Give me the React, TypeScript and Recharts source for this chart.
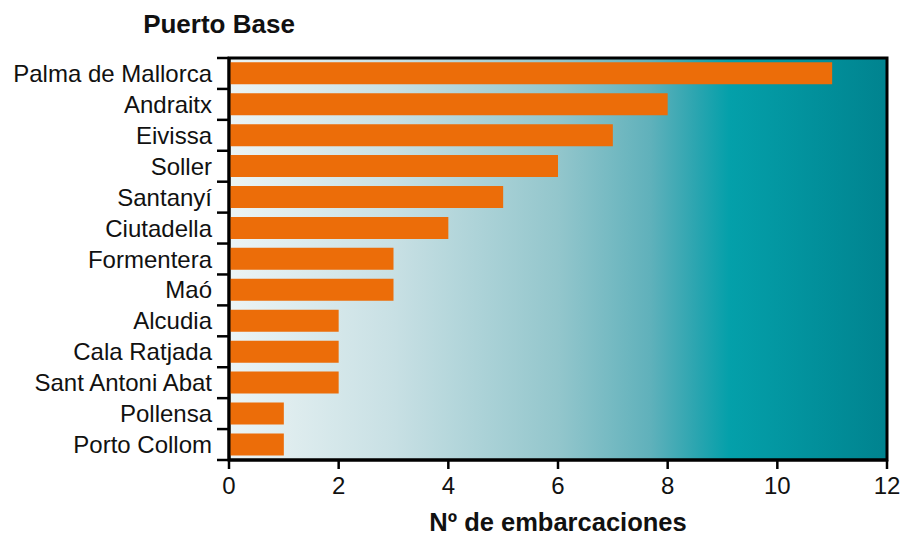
import React from "react";
import { BarChart, Bar, XAxis, YAxis, CartesianGrid, ReferenceArea } from "recharts";

const ports = [
  "Palma de Mallorca",
  "Andraitx",
  "Eivissa",
  "Soller",
  "Santanyí",
  "Ciutadella",
  "Formentera",
  "Maó",
  "Alcudia",
  "Cala Ratjada",
  "Sant Antoni Abat",
  "Pollensa",
  "Porto Collom",
];
const boats = [11, 8, 7, 6, 5, 4, 3, 3, 2, 2, 2, 1, 1];
const xTicks = [0, 2, 4, 6, 8, 10, 12];

const data = ports.map((name, i) => ({ name, value: boats[i] }));

const FONT = "'Liberation Sans', Arial, Helvetica, sans-serif";
const W = 904;
const H = 536;
const M = { top: 58, right: 17, bottom: 36, left: 0 };
const XAXIS_H = 40;
const PLOT_H = H - M.top - M.bottom - XAXIS_H;
const BAND = PLOT_H / ports.length;

const YTick = (props: any) => {
  const { x, y, payload, index, visibleTicksCount } = props;
  const top = y - BAND / 2;
  const bottom = y + BAND / 2;
  return (
    <g>
      <line x1={x - 12} x2={x} y1={top} y2={top} stroke="#000" strokeWidth={2.5} />
      {index === visibleTicksCount - 1 && (
        <line x1={x - 12} x2={x} y1={bottom} y2={bottom} stroke="#000" strokeWidth={2.5} />
      )}
      <text
        x={x - 17}
        y={y}
        textAnchor="end"
        dominantBaseline="central"
        fontFamily={FONT}
        fontSize={24}
        fill="#111"
      >
        {payload.value}
      </text>
    </g>
  );
};

export default function App() {
  return (
    <div style={{ position: "absolute", left: 0, top: 0, width: W, height: H, background: "#fff" }}>
      <BarChart
        width={W}
        height={H}
        data={data}
        layout="vertical"
        margin={M}
        barCategoryGap="14%"
      >
        <defs>
          <linearGradient id="bgGrad" x1="0" y1="0" x2="1" y2="0">
            <stop offset="0" stopColor="#ecf4f5" />
            <stop offset="0.25" stopColor="#c8e0e4" />
            <stop offset="0.5" stopColor="#93c6cc" />
            <stop offset="0.64" stopColor="#60b1bb" />
            <stop offset="0.71" stopColor="#2ba5b0" />
            <stop offset="0.76" stopColor="#04a0aa" />
            <stop offset="1" stopColor="#00838f" />
          </linearGradient>
        </defs>
        <CartesianGrid fill="url(#bgGrad)" horizontal={false} vertical={false} />
        <XAxis
          type="number"
          domain={[0, 12]}
          ticks={xTicks}
          height={XAXIS_H}
          axisLine={{ stroke: "#000", strokeWidth: 3 }}
          tickLine={{ stroke: "#000", strokeWidth: 2.5 }}
          tickSize={9}
          tickMargin={8}
          tick={{ fontFamily: FONT, fontSize: 24, fill: "#111" }}
          label={{
            value: "Nº de embarcaciones",
            position: "insideBottom",
            offset: -31,
            fontFamily: FONT,
            fontSize: 25.5,
            fontWeight: "bold",
            fill: "#111",
          }}
        />
        <YAxis
          type="category"
          dataKey="name"
          width={229}
          axisLine={{ stroke: "#000", strokeWidth: 3 }}
          tickLine={false}
          tickSize={0}
          tickMargin={0}
          interval={0}
          tick={<YTick />}
        />
        <Bar dataKey="value" fill="#ec6d09" isAnimationActive={false} />
        <ReferenceArea
          x1={0}
          x2={12}
          fill="none"
          stroke="#000"
          strokeWidth={3}
          ifOverflow="visible"
        />
        <text
          x={219}
          y={24}
          textAnchor="middle"
          dominantBaseline="central"
          fontFamily={FONT}
          fontSize={26}
          fontWeight="bold"
          fill="#111"
        >
          Puerto Base
        </text>
      </BarChart>
    </div>
  );
}
